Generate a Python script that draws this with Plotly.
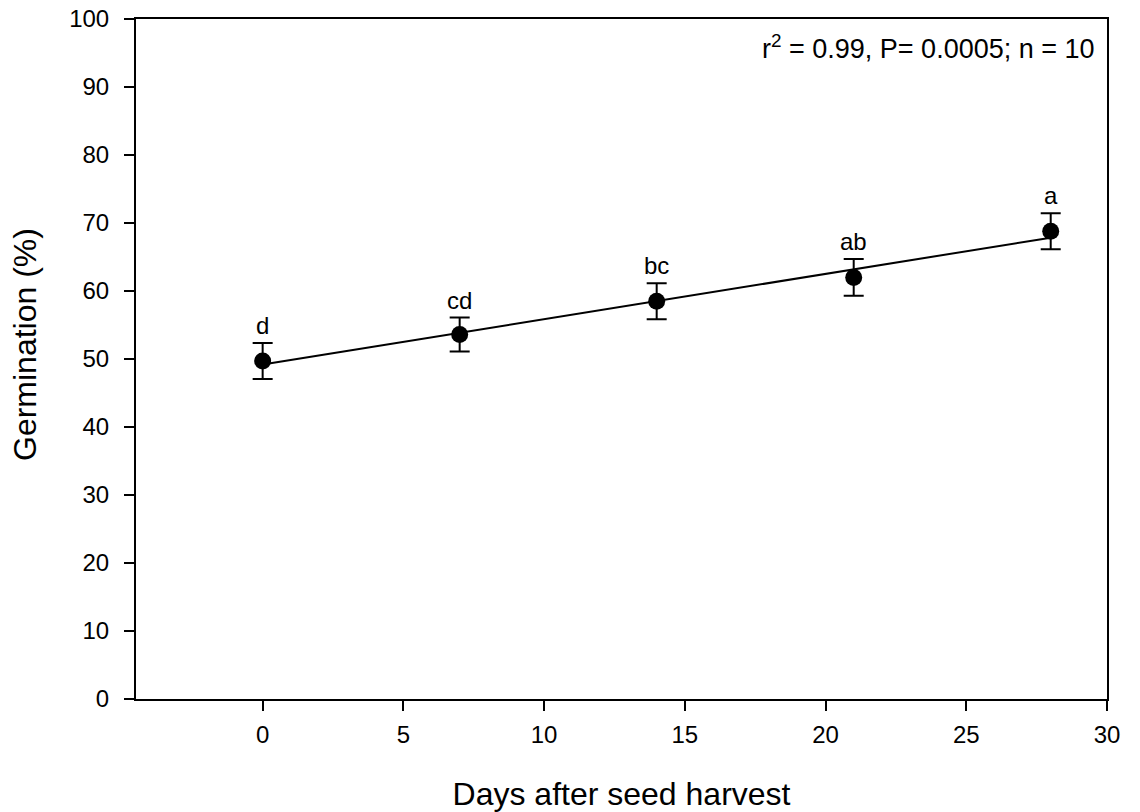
import numpy as np
import plotly.graph_objects as go

days = [0, 7, 14, 21, 28]
germination = [49.7, 53.6, 58.5, 62.0, 68.8]
sem = [2.65, 2.5, 2.65, 2.7, 2.65]
letters = ["d", "cd", "bc", "ab", "a"]
x_ticks = [0, 5, 10, 15, 20, 25, 30]
y_ticks = [0, 10, 20, 30, 40, 50, 60, 70, 80, 90, 100]
stats_text = "r<sup>2</sup> = 0.99, P= 0.0005; n = 10"
x_title = "Days after seed harvest"
y_title = "Germination (%)"

slope, intercept = np.polyfit(days, germination, 1)
fit_x = [days[0], days[-1]]
fit_y = [intercept + slope * v for v in fit_x]

FONT = "Arial, Liberation Sans, sans-serif"

fig = go.Figure()
fig.add_trace(go.Scatter(x=fit_x, y=fit_y, mode="lines",
                         line=dict(color="black", width=2), showlegend=False))
fig.add_trace(go.Scatter(
    x=days, y=germination, mode="markers",
    marker=dict(color="black", size=17),
    error_y=dict(type="data", array=sem, visible=True, color="black",
                 thickness=2, width=10),
    showlegend=False))

for d, g, s, lab in zip(days, germination, sem, letters):
    fig.add_annotation(x=d, y=g + s, text=lab, showarrow=False,
                       xanchor="center", yanchor="bottom", yshift=2,
                       font=dict(family=FONT, size=24, color="black"))

fig.add_annotation(xref="paper", yref="paper", x=1, y=1, text=stats_text,
                   showarrow=False, xanchor="right", yanchor="top",
                   xshift=-10, yshift=-9,
                   font=dict(family=FONT, size=27, color="black"))

fig.add_annotation(xref="paper", yref="paper", x=0, y=0.5, text=y_title,
                   textangle=-90, showarrow=False, xanchor="center",
                   yanchor="middle", xshift=-111, yshift=14,
                   font=dict(family=FONT, size=32, color="black"))

fig.update_layout(
    width=1140, height=812,
    margin=dict(l=136, r=33, t=19, b=113, autoexpand=False),
    paper_bgcolor="white", plot_bgcolor="white",
    font=dict(family=FONT, size=24, color="black"),
    xaxis=dict(range=[-4.5, 30], tickvals=x_ticks, ticks="outside",
               ticklen=10, tickwidth=2, tickcolor="black",
               showline=True, linecolor="black", linewidth=2, mirror=True,
               showgrid=False, zeroline=False, automargin=False,
               tickfont=dict(size=24), ticklabelstandoff=3,
               ticklabeloverflow="allow",
               title=dict(text=x_title, font=dict(size=32), standoff=38)),
    yaxis=dict(range=[0, 100], tickvals=y_ticks, ticks="outside",
               ticklen=10, tickwidth=2, tickcolor="black",
               showline=True, linecolor="black", linewidth=2, mirror=True,
               showgrid=False, zeroline=False, automargin=False,
               tickfont=dict(size=24), ticklabelstandoff=10,
               ticklabeloverflow="allow"),
)

fig.write_html("out.html",
               config={"displayModeBar": False, "staticPlot": True},
               post_script="document.body.style.margin='0';"
                           "document.body.style.overflow='hidden';")
